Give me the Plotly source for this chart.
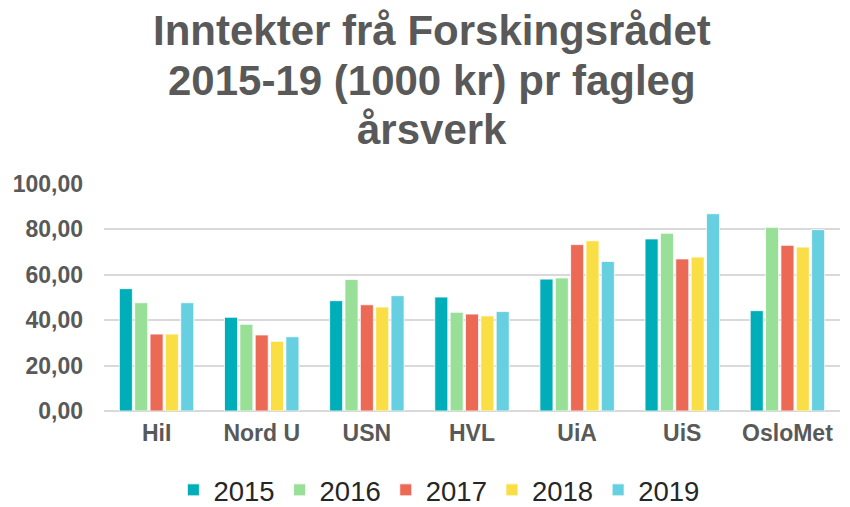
import plotly.graph_objects as go

categories = ["HiI", "Nord U", "USN", "HVL", "UiA", "UiS", "OsloMet"]
years = ["2015", "2016", "2017", "2018", "2019"]
v2015 = [53.9, 41.3, 48.6, 50.2, 58.1, 75.8, 44.2]
v2016 = [47.7, 38.2, 57.9, 43.5, 58.6, 78.3, 80.9]
v2017 = [33.9, 33.5, 46.8, 42.7, 73.3, 67.0, 73.0]
v2018 = [33.9, 30.7, 45.8, 41.9, 75.0, 67.8, 72.2]
v2019 = [47.7, 32.7, 50.8, 43.8, 65.9, 86.9, 79.9]
series = [v2015, v2016, v2017, v2018, v2019]
colors = ["#00AEB9", "#98DF98", "#EC6A55", "#F9DE45", "#66CFE0"]
title_lines = ["Inntekter frå Forskingsrådet", "2015-19 (1000 kr) pr fagleg", "årsverk"]

FONT = "Liberation Sans, Arial, sans-serif"

fig = go.Figure()
for y, vals, c in zip(years, series, colors):
    fig.add_trace(go.Bar(
        x=categories, y=vals, name=y,
        marker=dict(color=c, line=dict(color="white", width=0.8)),
    ))

# title as three centred lines
title_y = [1.678, 1.458, 1.238]
for line, ty in zip(title_lines, title_y):
    fig.add_annotation(
        text=line, xref="paper", yref="paper", x=0.4457, y=ty,
        xanchor="center", yanchor="middle", showarrow=False,
        font=dict(family=FONT, size=42, color="#595959", weight="bold"),
    )

fig.update_layout(
    width=850, height=507,
    paper_bgcolor="white", plot_bgcolor="white",
    barmode="group", bargap=0.27, bargroupgap=0.15,
    separators=", ",
    margin=dict(l=96, r=18, t=176, b=104, autoexpand=False),
    font=dict(family=FONT, color="#595959"),
    xaxis=dict(
        showgrid=False, showline=False, ticks="",
        tickfont=dict(family=FONT, size=23, color="#595959", weight="bold"),
        ticklabelstandoff=6,
    ),
    yaxis=dict(
        range=[0, 100], dtick=20, tickformat=".2f",
        showgrid=True, gridcolor="#D9D9D9", gridwidth=1.5,
        zeroline=True, zerolinecolor="#D9D9D9", zerolinewidth=1.5,
        tickfont=dict(family=FONT, size=23, color="#595959", weight="bold"),
        ticks="", ticklabelstandoff=20,
    ),
    legend=dict(
        orientation="h", x=0.455, xanchor="center", y=-0.348, yanchor="middle",
        font=dict(family=FONT, size=27.5, color="#262626"),
        itemwidth=30,
    ),
)

fig.write_html("out.html")
